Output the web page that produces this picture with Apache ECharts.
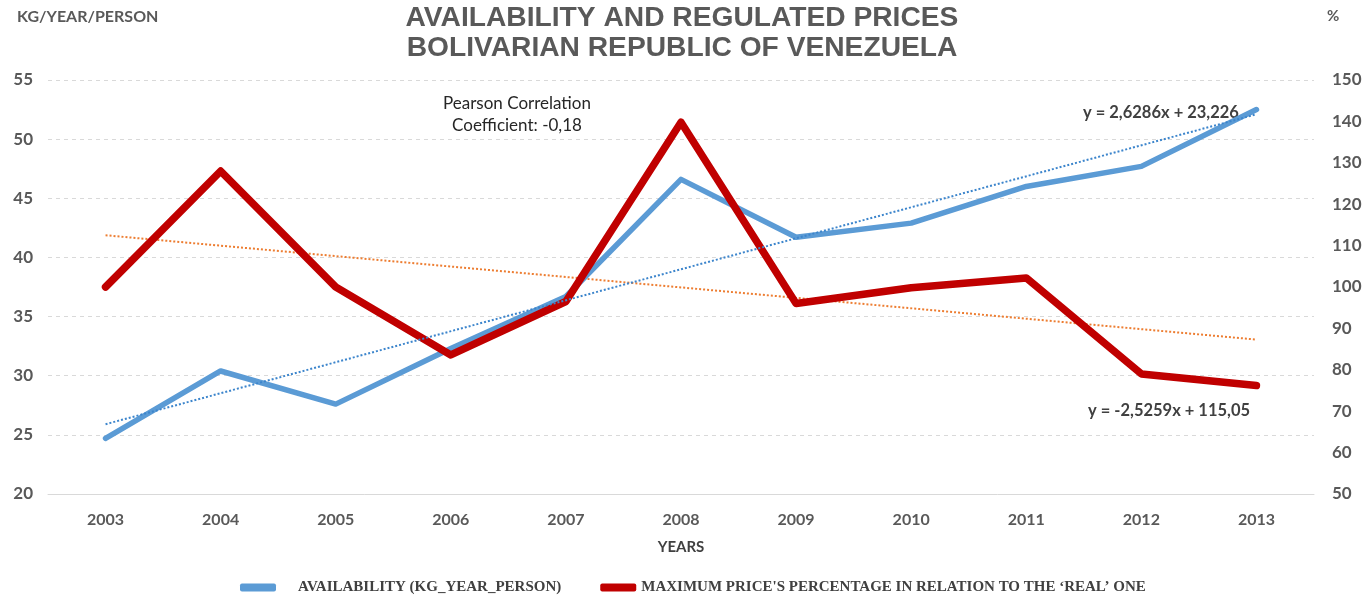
<!DOCTYPE html>
<html>
<head>
<meta charset="utf-8">
<script src="https://cdn.jsdelivr.net/npm/echarts@6/dist/echarts.min.js"></script>
<style>
html,body{margin:0;padding:0;background:#fff;}
#chart{width:1366px;height:596px;}
</style>
</head>
<body>
<div id="chart"></div>
<script>
var years = ['2003','2004','2005','2006','2007','2008','2009','2010','2011','2012','2013'];
var availability = [24.7, 30.4, 27.6, 32.3, 36.7, 46.6, 41.7, 42.9, 46.0, 47.7, 52.5];
var maxPricePct = [100.0, 128.0, 100.0, 83.6, 96.5, 139.8, 96.0, 99.8, 102.2, 79.0, 76.2];
var availabilityTrend = [25.9, null, null, null, null, null, null, null, null, null, 52.1];
var priceTrend = [112.5, null, null, null, null, null, null, null, null, null, 87.3];
var leftTicks = [20, 55, 5];
var rightTicks = [50, 150, 10];
var seriesNames = ['AVAILABILITY (KG_YEAR_PERSON)', "MAXIMUM PRICE'S PERCENTAGE IN RELATION TO THE \u2018REAL\u2019 ONE"];

var chart = echarts.init(document.getElementById('chart'));
var sans = 'Lato, "Open Sans", sans-serif';
chart.setOption({
  backgroundColor: '#fff',
  animation: false,
  title: {
    text: 'AVAILABILITY AND REGULATED PRICES\nBOLIVARIAN REPUBLIC OF VENEZUELA',
    left: 677, top: -2, textAlign: 'center',
    textStyle: {fontFamily: '"Liberation Sans", Arial, sans-serif', fontWeight: 'bold', fontSize: 28.2, lineHeight: 30, color: '#595959'}
  },
  grid: {left: 48, right: 52, top: 80, bottom: 102},
  legend: {
    left: 240, top: 580, padding: 0, itemWidth: 36, itemHeight: 8, itemGap: 39,
    icon: 'roundRect',
    data: seriesNames,
    formatter: function (n) { return n === seriesNames[0] ? '{a|' + n + '}' : n; },
    textStyle: {fontFamily: '"Liberation Serif", serif', fontWeight: 'bold', fontSize: 15, color: '#404040',
      rich: {a: {fontFamily: '"Liberation Serif", serif', fontWeight: 'bold', fontSize: 15, color: '#404040', padding: [0, 0, 0, 17]}}}
  },
  xAxis: {
    type: 'category', data: years, boundaryGap: true,
    name: 'YEARS', nameLocation: 'middle', nameGap: 46,
    nameTextStyle: {fontFamily: sans, fontWeight: 'bold', fontSize: 15, color: '#404040'},
    axisLine: {lineStyle: {color: '#d9d9d9', width: 1}},
    axisTick: {show: false},
    axisLabel: {fontFamily: sans, fontWeight: 'bold', fontSize: 16, color: '#595959', margin: 18}
  },
  yAxis: [{
    type: 'value', min: leftTicks[0], max: leftTicks[1], interval: leftTicks[2],
    axisLine: {show: false}, axisTick: {show: false},
    axisLabel: {fontFamily: sans, fontWeight: 'bold', fontSize: 17, color: '#595959', margin: 15},
    splitLine: {lineStyle: {color: '#d9d9d9', type: [4, 4], width: 1}}
  }, {
    type: 'value', min: rightTicks[0], max: rightTicks[1], interval: rightTicks[2],
    axisLine: {show: false}, axisTick: {show: false},
    axisLabel: {fontFamily: sans, fontWeight: 'bold', fontSize: 17, color: '#595959', margin: 18},
    splitLine: {show: false}
  }],
  series: [{
    name: seriesNames[0], type: 'line', yAxisIndex: 0, data: availability,
    symbol: 'none', lineStyle: {color: '#5B9BD5', width: 5.5, cap: 'round', join: 'round'},
    itemStyle: {color: '#5B9BD5'}, z: 3
  }, {
    name: seriesNames[1], type: 'line', yAxisIndex: 1, data: maxPricePct,
    symbol: 'none', lineStyle: {color: '#C00000', width: 7.5, cap: 'round', join: 'round'},
    itemStyle: {color: '#C00000'}, z: 4
  }, {
    name: 'trendA', type: 'line', yAxisIndex: 0, data: availabilityTrend, connectNulls: true,
    symbol: 'none', lineStyle: {color: '#3C85CC', width: 2, type: [2, 2]}, z: 5
  }, {
    name: 'trendP', type: 'line', yAxisIndex: 1, data: priceTrend, connectNulls: true,
    symbol: 'none', lineStyle: {color: '#ED7D31', width: 2, type: [2, 2]}, z: 2
  }],
  graphic: [
    {type: 'text', left: 17, top: 9, style: {text: 'KG/YEAR/PERSON', font: 'bold 16px ' + sans, fill: '#595959'}},
    {type: 'text', left: 1327, top: 9, style: {text: '%', font: 'bold 15px ' + sans, fill: '#595959'}},
    {type: 'text', x: 517, y: 93, style: {text: 'Pearson Correlation\nCoefficient: -0,18', font: '17px ' + sans, lineHeight: 22, fill: '#262626', align: 'center'}},
    {type: 'text', x: 1083, y: 104, style: {text: 'y = 2,6286x + 23,226', font: 'bold 16.5px ' + sans, fill: '#404040'}, z: 2},
    {type: 'text', x: 1088, y: 402, style: {text: 'y = -2,5259x + 115,05', font: 'bold 16.5px ' + sans, fill: '#404040'}}
  ]
});
</script>
</body>
</html>
